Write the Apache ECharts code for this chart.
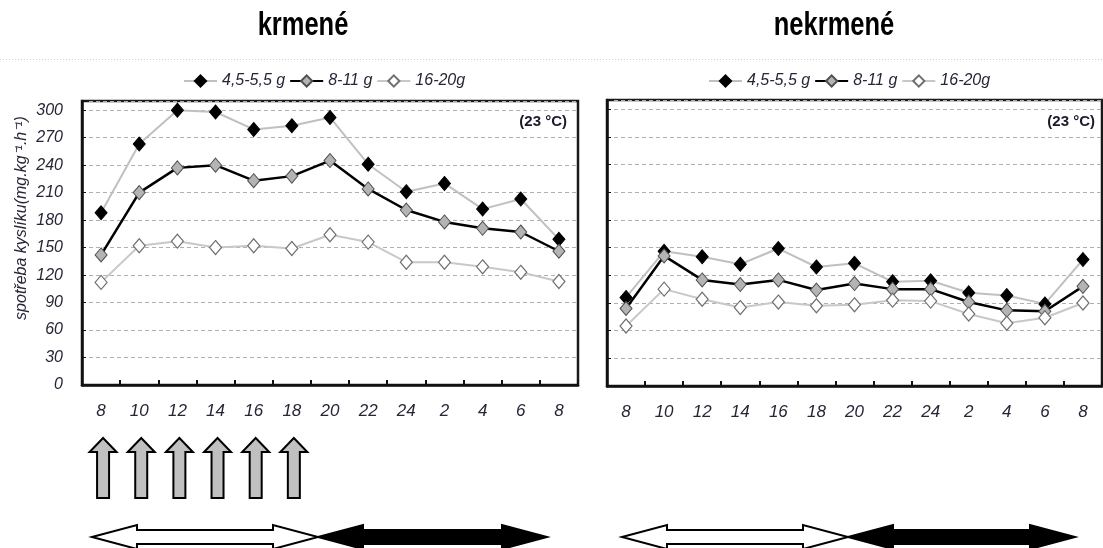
<!DOCTYPE html>
<html>
<head>
<meta charset="utf-8">
<script src="https://cdn.jsdelivr.net/npm/echarts@6/dist/echarts.min.js"></script>
<style>
html,body{margin:0;padding:0;background:#fff;}
#c{width:1103px;height:548px;}
</style>
</head>
<body>
<div id="c"></div>
<script>
// time of day (h) for each measurement
const hours = ['8','10','12','14','16','18','20','22','24','2','4','6','8'];
const sizeGroups = ['4,5-5,5 g', '8-11 g', '16-20g'];

// oxygen consumption, fed fish (mg.kg-1.h-1)
const fedSmall = [188,263,300,298,279,283,292,241,211,220,192,203,159];
const fedMid   = [142,210,237,240,223,228,245,214,191,178,171,167,146];
const fedLarge = [112,152,157,150,152,149,164,156,134,134,129,123,113];

// oxygen consumption, unfed fish (mg.kg-1.h-1)
const unfedSmall = [96,146,140,132,149,129,133,113,114,101,98,89,137];
const unfedMid   = [84,141,115,110,115,104,111,105,105,91,82,81,108];
const unfedLarge = [65,105,94,85,91,87,88,93,92,78,68,74,90];

// feeding times (indices into hours)
const feedingIdx = [0,1,2,3,4,5];

const panelTitles = ['krmené', 'nekrmené'];
const tempLabel = '(23 °C)';
const yTitle = 'spotřeba kyslíku(mg.kg⁻¹.h⁻¹)';

const TXT = '#262636';
const FONT = '"Liberation Sans", Arial, sans-serif';

const chart = echarts.init(document.getElementById('c'), null, {renderer: 'canvas'});

const styles = [
  {line: {color: '#c0c0c0', width: 2}, item: {color: '#000', borderColor: '#000', borderWidth: 1}},
  {line: {color: '#000', width: 2.5}, item: {color: '#b4b4b4', borderColor: '#505050', borderWidth: 1}},
  {line: {color: '#c8c8c8', width: 2}, item: {color: '#fff', borderColor: '#707070', borderWidth: 1.2}}
];

function makeSeries(name, data, idx, styleIdx) {
  const s = styles[styleIdx];
  return {
    type: 'line', name: name, data: data,
    xAxisIndex: idx, yAxisIndex: idx,
    symbol: 'diamond', symbolSize: [12, 14], showAllSymbol: true,
    lineStyle: s.line, itemStyle: s.item,
    emphasis: {disabled: true}, silent: true
  };
}

function xAxis(gridIndex) {
  return {
    type: 'category', gridIndex: gridIndex, data: hours, boundaryGap: true,
    axisLine: {show: true, lineStyle: {color: '#111', width: 2.5}},
    axisTick: {show: true, inside: true, length: 5, lineStyle: {color: '#111', width: 2}},
    axisLabel: {interval: 0, margin: 18, fontSize: 17, fontStyle: 'italic', color: TXT, fontFamily: FONT},
    splitLine: {show: false}
  };
}

function yAxis(gridIndex, showLabels) {
  return {
    type: 'value', gridIndex: gridIndex, min: 0, max: 310, interval: 30,
    axisLine: {show: true, lineStyle: {color: '#111', width: 2.5}},
    axisTick: {show: true, inside: true, length: 4, lineStyle: {color: '#111', width: 1}},
    axisLabel: {
      show: showLabels, margin: 19, fontSize: 16, fontStyle: 'italic', color: TXT, fontFamily: FONT,
      formatter: v => (v % 30 === 0 ? String(v) : '')
    },
    splitLine: {show: true, lineStyle: {color: '#b0b0b0', width: 1, type: [4, 3]}}
  };
}

const legendBase = {
  orient: 'horizontal', top: 73, padding: 0, itemGap: 4,
  itemWidth: 33, itemHeight: 14, data: sizeGroups,
  selectedMode: false,
  textStyle: {fontSize: 16, fontStyle: 'italic', color: TXT, fontFamily: FONT}
};

chart.setOption({
  animation: false,
  backgroundColor: '#fff',
  grid: [
    {left: 82, right: 525, top: 101, bottom: 163, show: true, borderColor: '#1a1a1a', borderWidth: 2.5},
    {left: 607, right: 1, top: 100, bottom: 162, show: true, borderColor: '#1a1a1a', borderWidth: 2.5}
  ],
  legend: [
    Object.assign({}, legendBase, {left: 183}),
    Object.assign({}, legendBase, {left: 708})
  ],
  xAxis: [xAxis(0), xAxis(1)],
  yAxis: [yAxis(0, true), yAxis(1, false)],
  series: [
    makeSeries(sizeGroups[0], fedSmall, 0, 0),
    makeSeries(sizeGroups[1], fedMid, 0, 1),
    makeSeries(sizeGroups[2], fedLarge, 0, 2),
    makeSeries(sizeGroups[0], unfedSmall, 1, 0),
    makeSeries(sizeGroups[1], unfedMid, 1, 1),
    makeSeries(sizeGroups[2], unfedLarge, 1, 2)
  ]
});

// decorations: titles, axis title, temperature note, feeding and light/dark arrows
const g = [];

g.push({type: 'line', silent: true, shape: {x1: 0, y1: 59.5, x2: 1103, y2: 59.5},
  style: {stroke: '#cfcfcf', lineWidth: 1, lineDash: [1, 2]}});

[[303, panelTitles[0]], [834, panelTitles[1]]].forEach(([x, t]) => {
  g.push({type: 'text', silent: true, x: x, y: 26, scaleX: 0.75, originX: 0, originY: 0,
    style: {text: t, fontSize: 34, fontWeight: 'bold', fontFamily: FONT, fill: '#000',
      align: 'center', verticalAlign: 'middle'}});
});

g.push({type: 'text', silent: true, x: 22, y: 218, rotation: Math.PI / 2,
  style: {text: yTitle, fontSize: 16, fontStyle: 'italic', fontFamily: FONT, fill: TXT,
    align: 'center', verticalAlign: 'middle'}});

[[567, 122], [1095, 122]].forEach(([x, y]) => {
  g.push({type: 'text', silent: true, x: x, y: y,
    style: {text: tempLabel, fontSize: 15, fontWeight: 'bold', fontFamily: FONT, fill: '#1a1a2a',
      align: 'right', verticalAlign: 'middle'}});
});

// feeding arrows under the fed panel, one per feeding time
feedingIdx.forEach(i => {
  const cx = chart.convertToPixel({xAxisIndex: 0}, i) + 2;
  g.push({type: 'polygon', silent: true,
    shape: {points: [[cx, 438], [cx + 13.5, 452], [cx + 6, 452], [cx + 6, 498], [cx - 6, 498],
      [cx - 6, 452], [cx - 13.5, 452]]},
    style: {fill: '#c0c0c0', stroke: '#000', lineWidth: 2, lineJoin: 'miter'}});
});

function doubleArrow(x1, x2, fill) {
  const c = 537, hl = 45, hh = 12, sh = 7;
  return {type: 'polygon', silent: true,
    shape: {points: [[x1, c], [x1 + hl, c - hh], [x1 + hl, c - sh], [x2 - hl, c - sh], [x2 - hl, c - hh],
      [x2, c], [x2 - hl, c + hh], [x2 - hl, c + sh], [x1 + hl, c + sh], [x1 + hl, c + hh]]},
    style: {fill: fill, stroke: '#000', lineWidth: 2}};
}
g.push(doubleArrow(92, 318, '#fff'));
g.push(doubleArrow(318, 547, '#000'));
g.push(doubleArrow(622, 848, '#fff'));
g.push(doubleArrow(848, 1075, '#000'));

chart.setOption({graphic: g});
</script>
</body>
</html>
